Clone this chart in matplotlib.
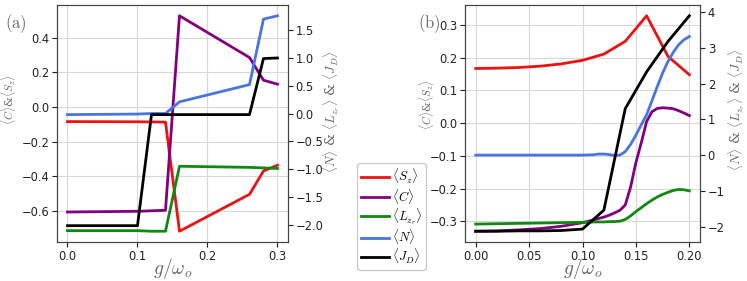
import matplotlib
matplotlib.use('Agg')
import matplotlib.pyplot as plt

plt.rcParams['mathtext.fontset'] = 'cm'

# --- panel (a) data ---
g_a = [0.0, 0.10, 0.12, 0.14, 0.16, 0.26, 0.28, 0.30]
sz_a = [-0.085, -0.086, -0.087, -0.088, -0.718, -0.505, -0.370, -0.337]
c_a = [-0.607, -0.603, -0.600, -0.597, 0.526, 0.285, 0.154, 0.131]
lzr_a = [-2.11, -2.11, -2.12, -2.12, -0.95, -0.97, -0.98, -0.99]
n_a = [-0.02, -0.01, 0.0, 0.0, 0.21, 0.52, 1.70, 1.76]
jd_a = [-2.02, -2.02, -0.02, -0.02, -0.02, -0.02, 0.99, 1.0]

# --- panel (b) data ---
g_b = [0.0, 0.02, 0.04, 0.06, 0.08, 0.10, 0.12, 0.14, 0.16, 0.18, 0.20]
sz_b = [0.167, 0.168, 0.170, 0.174, 0.181, 0.192, 0.211, 0.250, 0.328, 0.204, 0.148]
jd_b = [-2.13, -2.13, -2.12, -2.12, -2.11, -2.07, -1.54, 1.30, 2.33, 3.18, 3.90]

g_b_fine = [0.0, 0.02, 0.04, 0.06, 0.08, 0.10, 0.105, 0.11, 0.115, 0.12, 0.125,
            0.13, 0.135, 0.14, 0.145, 0.15, 0.155, 0.16, 0.165, 0.17, 0.175,
            0.18, 0.185, 0.19, 0.195, 0.20]
c_b = [-0.330, -0.329, -0.326, -0.322, -0.315, -0.304, -0.300, -0.296, -0.291, -0.287, -0.281,
       -0.274, -0.266, -0.250, -0.195, -0.120, -0.060, 0.005, 0.035, 0.045, 0.047,
       0.046, 0.044, 0.038, 0.031, 0.023]
lzr_b = [-1.93, -1.92, -1.91, -1.90, -1.89, -1.88, -1.88, -1.87, -1.87, -1.87, -1.86,
         -1.86, -1.85, -1.80, -1.70, -1.58, -1.47, -1.36, -1.26, -1.17, -1.10,
         -1.04, -0.99, -0.96, -0.97, -1.00]
n_b = [0.0, 0.0, 0.0, 0.0, 0.0, 0.0, 0.005, 0.01, 0.03, 0.03, 0.015,
       -0.01, 0.0, 0.10, 0.30, 0.56, 0.85, 1.13, 1.52, 1.92, 2.30,
       2.62, 2.88, 3.09, 3.23, 3.32]

labels = [r'$\langle S_z\rangle$', r'$\langle C\rangle$', r'$\langle L_{z_r}\rangle$',
          r'$\langle N\rangle$', r'$\langle J_D\rangle$']
colors = ['#ee1111', '#800080', '#118811', '#4a74e0', 'black']
label_col = '#666666'
lw = 2.0

fig = plt.figure(figsize=(7.47, 2.81), dpi=100)
ax_a = fig.add_axes([0.0763, 0.1388, 0.3092, 0.8434])
ax_b = fig.add_axes([0.6225, 0.1388, 0.3146, 0.8434])


def draw_panel(ax, left_series, right_series):
    ax.grid(True, color='#d8d8d8', lw=0.8)
    handles = []
    for (xs, y, col, lab) in left_series:
        h, = ax.plot(xs, y, color=col, lw=lw, label=lab)
        handles.append(h)
    axr = ax.twinx()
    for (xs, y, col, lab) in right_series:
        h, = axr.plot(xs, y, color=col, lw=lw, label=lab)
        handles.append(h)
    for a in (ax, axr):
        a.tick_params(labelsize=8.3, colors='#222222', pad=2)
        for s in a.spines.values():
            s.set_color('#444444')
    ax.set_xlabel(r'$g/\omega_o$', fontsize=14, color=label_col, labelpad=-5)
    ax.set_ylabel(r'$\langle C\rangle$&$\langle S_z\rangle$', fontsize=8,
                  color=label_col, family='DejaVu Serif')
    axr.set_ylabel(r'$\langle N\rangle$ & $\langle L_{z_r}\rangle$ & $\langle J_D\rangle$',
                   fontsize=9.5, color=label_col, family='DejaVu Serif')
    return axr, handles


axr_a, handles = draw_panel(
    ax_a,
    [(g_a, sz_a, colors[0], labels[0]), (g_a, c_a, colors[1], labels[1])],
    [(g_a, lzr_a, colors[2], labels[2]), (g_a, n_a, colors[3], labels[3]),
     (g_a, jd_a, colors[4], labels[4])])
ax_a.set_xticks([0.0, 0.1, 0.2, 0.3])
ax_a.yaxis.set_label_coords(-0.17, 0.6)
axr_a.yaxis.set_label_coords(1.145, 0.55)

axr_b, _ = draw_panel(
    ax_b,
    [(g_b, sz_b, colors[0], labels[0]), (g_b_fine, c_b, colors[1], labels[1])],
    [(g_b_fine, lzr_b, colors[2], labels[2]), (g_b_fine, n_b, colors[3], labels[3]),
     (g_b, jd_b, colors[4], labels[4])])
ax_b.set_xticks([0.0, 0.05, 0.10, 0.15, 0.20])
ax_b.set_xticklabels(['0.00', '0.05', '0.10', '0.15', '0.20'])
ax_b.yaxis.set_label_coords(-0.125, 0.58)
axr_b.yaxis.set_label_coords(1.112, 0.56)

fig.text(0.007, 0.9, r'$\mathrm{(a)}$', fontsize=12, color=label_col)
fig.text(0.559, 0.9, r'$\mathrm{(b)}$', fontsize=12, color=label_col)

fig.legend(handles=handles, loc='upper left', bbox_to_anchor=(0.478, 0.42),
           borderaxespad=0, fontsize=9.3, handlelength=2.2, labelspacing=0.05,
           borderpad=0.3, handletextpad=0.2, framealpha=1.0, edgecolor='#cccccc')

fig.savefig('out.png', dpi=100)
